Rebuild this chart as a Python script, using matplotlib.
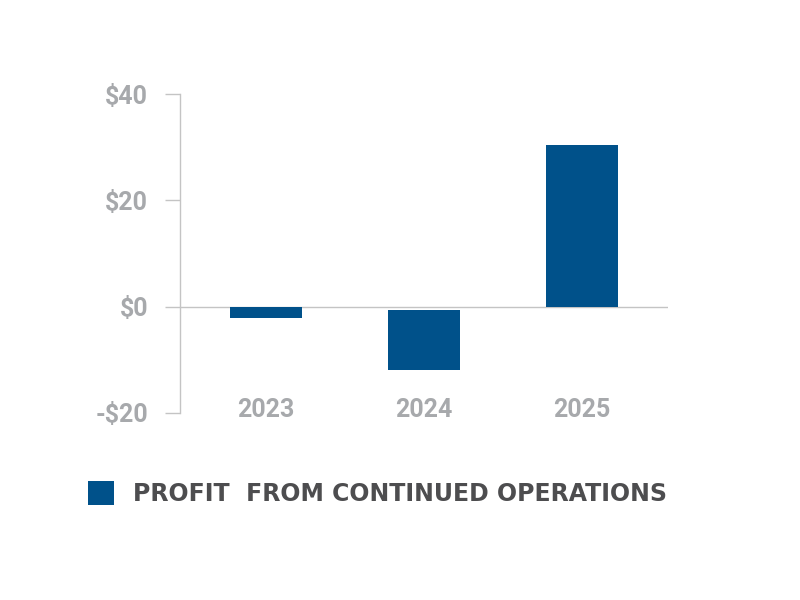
import matplotlib
matplotlib.use("Agg")
import matplotlib.pyplot as plt

# data (millions of $)
years = ["2023", "2024", "2025"]
profit = [-2.1, -12.0, 30.4]
bar_start = [0.0, -0.6, 0.0]   # 2024 bar sits slightly below the zero line
y_ticks = [-20, 0, 20, 40]
y_labels = ["-$20", "$0", "$20", "$40"]
legend_label = "PROFIT  FROM CONTINUED OPERATIONS"

BAR_COLOR = "#00518a"
TICK_COLOR = "#a7a9ac"
AXIS_COLOR = "#c4c4c4"
LEGEND_COLOR = "#4d4d4f"

plt.rcParams["font.family"] = ["Roboto", "DejaVu Sans"]
plt.rcParams["font.weight"] = "bold"


def main():
    fig = plt.figure(figsize=(8, 6), dpi=100)
    ax = fig.add_axes([0.225, 0.3117, 0.61, 0.5316])

    x = list(range(len(years)))
    heights = [p - s for p, s in zip(profit, bar_start)]
    bars = ax.bar(x, heights, bottom=bar_start, width=0.46,
                  color=BAR_COLOR, label=legend_label, zorder=3)

    ax.set_xlim(-0.545, 2.545)
    ax.set_ylim(-20, 40)

    # spines: only the left one, plus a zero line
    for side in ["top", "right", "bottom"]:
        ax.spines[side].set_visible(False)
    ax.spines["left"].set_color(AXIS_COLOR)
    ax.spines["left"].set_linewidth(1.0)
    ax.axhline(0, color=AXIS_COLOR, linewidth=1.0, zorder=2)

    ax.set_yticks(y_ticks)
    ax.set_yticklabels(y_labels)
    ax.tick_params(axis="y", length=11, width=1.0, color=AXIS_COLOR,
                   pad=12, labelsize=18, labelcolor=TICK_COLOR)
    ax.set_xticks([])

    # year labels sit inside the plot, just above the bottom
    for xi, yr in zip(x, years):
        ax.text(xi, -19.4, yr, ha="center", va="center",
                fontsize=18, color=TICK_COLOR, fontweight="bold")

    leg = fig.legend(handles=[bars], labels=[legend_label],
                     loc="center left", bbox_to_anchor=(0.083, 0.178),
                     frameon=False, handlelength=1.1,
                     handleheight=1.2, handletextpad=0.8,
                     prop={"family": "DejaVu Sans", "weight": "bold",
                           "size": 17})
    for t in leg.get_texts():
        t.set_color(LEGEND_COLOR)

    fig.savefig("out.png", dpi=100)


if __name__ == "__main__":
    main()
